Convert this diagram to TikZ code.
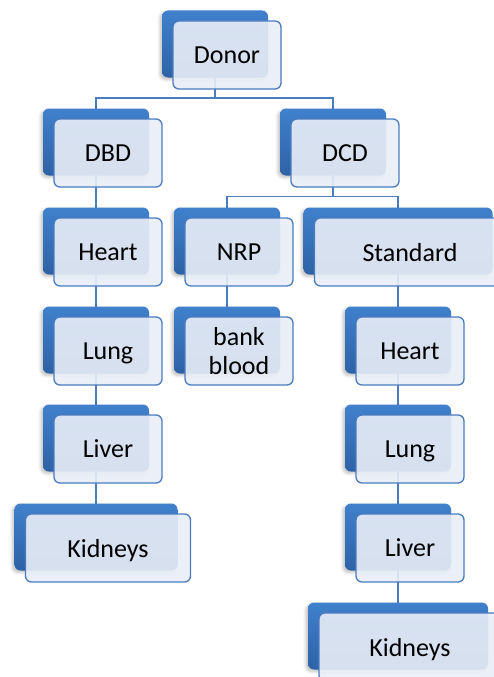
\documentclass[tikz,border=0pt]{standalone}
\usepackage{fontspec}
\setmainfont{Carlito}
\usetikzlibrary{positioning,calc,backgrounds,shadows.blur}

\definecolor{boxblue}{RGB}{64,128,204}
\definecolor{boxdark}{RGB}{46,98,166}
\definecolor{boxline}{RGB}{74,124,192}
\definecolor{boxfill}{RGB}{233,238,247}

\begin{document}
\begin{tikzpicture}[x=1pt,y=-1pt,
    back/.style={rectangle,rounded corners=6pt,inner sep=0pt,minimum width=106pt,minimum height=67pt,top color=boxblue,bottom color=boxdark,blur shadow={shadow xshift=-2pt,shadow yshift=-2pt,shadow opacity=25,shadow blur radius=3pt}},
    front/.style={rectangle,rounded corners=6pt,inner sep=0pt,minimum width=108pt,minimum height=68pt,draw=boxline,line width=1.3pt,fill=boxfill,fill opacity=0.9,text opacity=1,align=center,text depth=0pt,font=\fontsize{26}{29}\selectfont},
    link/.style={draw=boxline,line width=1.3pt,to path={(\tikztostart.center) |- ($(\tikztostart.center)!.5!(\tikztotarget.center)+(0,5)$) -| (\tikztotarget.center)}}]

    \useasboundingbox (0,0) rectangle (494,677);

    \node (1) at (215,44) [back]{};
    \node (1t) at ($(1)+(12,11)$) [front]{Donor};

    \node (2) at (96,142) [back]{};
    \node (2t) at ($(2)+(12,11)$) [front]{DBD};
    \node (3) at (333,142) [back]{};
    \node (3t) at ($(3)+(12,11)$) [front]{DCD};

    \node (4) at (96,241) [back]{};
    \node (4t) at ($(4)+(12,11)$) [front]{Heart};
    \node (5) at (96,340) [back]{};
    \node (5t) at ($(5)+(12,11)$) [front]{Lung};
    \node (6) at (96,438) [back]{};
    \node (6t) at ($(6)+(12,11)$) [front]{Liver};
    \node (7) at (96,537) [back, minimum width=163pt]{};
    \node (7t) at ($(7)+(12,11)$) [front, minimum width=165pt]{Kidneys};

    \node (8) at (227,241) [back]{};
    \node (8t) at ($(8)+(12,11)$) [front]{NRP};
    \node (9) at (227,340) [back]{};
    \node (9t) at ($(9)+(12,11)$) [front]{bank\\blood};

    \node (10) at (398,241) [back, minimum width=189pt]{};
    \node (10t) at ($(10)+(12,11)$) [front, minimum width=191pt]{Standard};
    \node (11) at (398,340) [back]{};
    \node (11t) at ($(11)+(12,11)$) [front]{Heart};
    \node (12) at (398,438) [back]{};
    \node (12t) at ($(12)+(12,11)$) [front]{Lung};
    \node (13) at (398,537) [back]{};
    \node (13t) at ($(13)+(12,11)$) [front]{Liver};
    \node (14) at (398,636) [back, minimum width=180pt]{};
    \node (14t) at ($(14)+(12,11)$) [front, minimum width=182pt]{Kidneys};

    \begin{scope}[on background layer]
    \path
        (1) edge [link] (2)
        (1) edge [link] (3)

        (2) edge [link] (4)
        (4) edge [link] (5)
        (5) edge [link] (6)
        (6) edge [link] (7)

        (3) edge [link] (8)
        (3) edge [link] (10)
        (8) edge [link] (9)

        (10) edge [link] (11)
        (11) edge [link] (12)
        (12) edge [link] (13)
        (13) edge [link] (14)
    ;
    \end{scope}
\end{tikzpicture}
\end{document}
